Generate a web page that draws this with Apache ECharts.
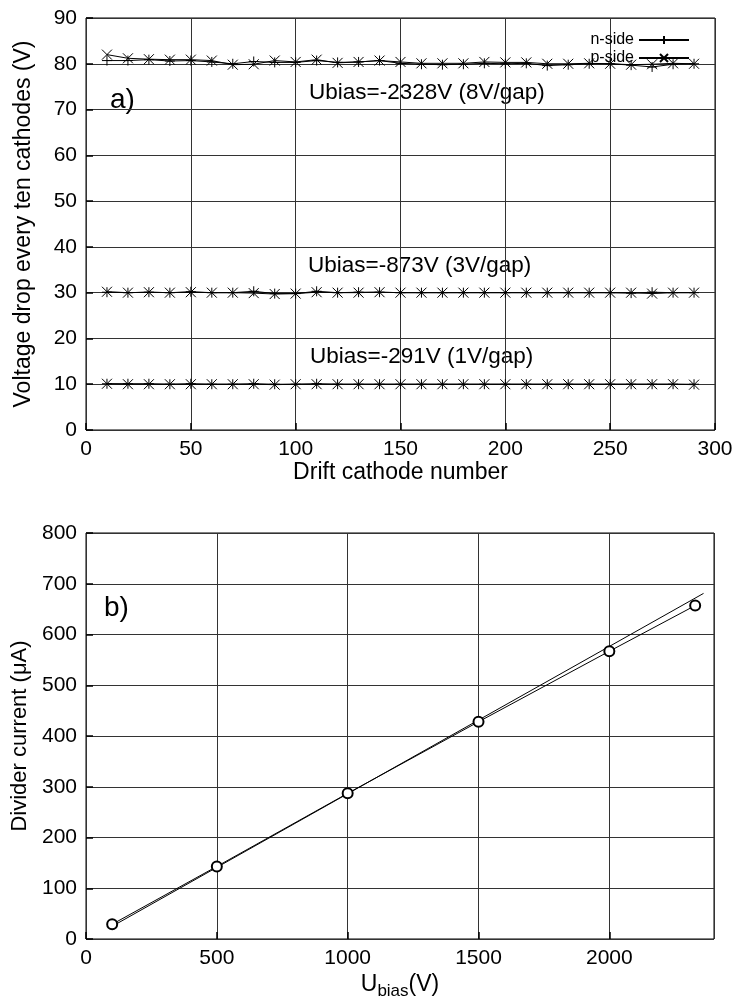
<!DOCTYPE html>
<html>
<head>
    <meta charset="utf-8">
    <title>Divider chain</title>
    <script src="https://cdn.jsdelivr.net/npm/echarts@6/dist/echarts.min.js"></script>
    <style>
        html, body { margin: 0; padding: 0; background: #fff; }
        #main { width: 740px; height: 1001px; }
    </style>
</head>
<body>
    <div id="main"></div>
    <script type="text/javascript">
        // panel a) voltage drop every ten cathodes
        var cathodes = [10, 20, 30, 40, 50, 60, 70, 80, 90, 100, 110, 120, 130, 140, 150,
                        160, 170, 180, 190, 200, 210, 220, 230, 240, 250, 260, 270, 280, 290];
        var n80 = [80.7, 80.7, 80.9, 80.6, 80.7, 80.4, 80.0, 80.5, 80.3, 80.3, 80.7, 80.3, 80.4, 80.7, 80.1,
                   79.9, 79.8, 79.9, 80.1, 80.0, 80.1, 79.6, 79.8, 80.0, 80.0, 79.7, 79.3, 79.9, 80.0];
        var p80 = [82.0, 81.2, 81.0, 80.9, 80.9, 80.7, 79.8, 79.9, 80.7, 80.4, 80.9, 80.2, 80.4, 80.7, 80.4,
                   80.1, 80.1, 80.1, 80.4, 80.3, 80.3, 80.0, 80.0, 80.1, 80.0, 79.8, 79.9, 80.1, 80.0];
        var n30 = [30.1, 30.0, 30.1, 30.0, 30.2, 30.0, 30.0, 30.3, 29.8, 29.8, 30.3, 30.0, 30.1, 30.1, 30.0,
                   30.0, 30.0, 30.0, 30.0, 30.0, 30.0, 30.0, 30.0, 30.0, 30.0, 29.9, 30.1, 30.0, 30.0];
        var p30 = [30.2, 30.0, 30.1, 30.0, 30.1, 30.0, 30.0, 29.9, 29.7, 29.8, 30.1, 30.0, 30.0, 30.1, 30.0,
                   30.0, 30.0, 30.0, 30.0, 30.0, 30.0, 30.0, 30.0, 30.0, 30.0, 30.0, 29.8, 30.0, 30.0];
        var n10 = [10.1, 10.1, 10.1, 10.0, 10.1, 10.0, 10.0, 10.1, 10.0, 10.0, 10.1, 10.0, 10.0, 10.0, 10.0,
                   10.0, 10.0, 10.0, 10.0, 10.0, 10.0, 10.0, 10.0, 10.0, 10.0, 10.0, 10.0, 10.0, 10.0];
        var p10 = [10.1, 10.0, 10.0, 10.0, 10.0, 10.0, 10.0, 10.0, 9.9, 10.0, 10.0, 10.0, 10.0, 10.0, 10.0,
                   10.0, 10.0, 10.0, 10.0, 10.0, 10.0, 10.0, 10.0, 10.0, 10.0, 10.0, 10.0, 10.0, 9.9];

        // panel b) divider current
        var ubias = [100, 500, 1000, 1500, 2000, 2328];
        var current = [29, 143, 287, 428, 567, 657];
        var fitLine = [[100, 25], [2360, 681]];

        var FONT = '"Liberation Sans", Arial, sans-serif';
        var PLUS = 'path://M5,0L5,10M0,5L10,5';
        var CROSS = 'path://M0,0L10,10M10,0L0,10';

        function pairs(xs, ys) {
            return xs.map(function (x, i) { return [x, ys[i]]; });
        }

        function sideSeries(name, symbol, values) {
            return {
                name: name,
                type: 'line',
                xAxisIndex: 0,
                yAxisIndex: 0,
                data: pairs(cathodes, values),
                symbol: symbol,
                symbolSize: 10,
                showSymbol: true,
                lineStyle: { color: '#000', width: 1 },
                itemStyle: { color: '#000', borderColor: '#000', borderWidth: 1 },
                silent: true
            };
        }

        function axis(grid, max, interval, name, nameGap, nameSize) {
            return {
                type: 'value', gridIndex: grid, min: 0, max: max, interval: interval,
                name: name, nameLocation: 'middle', nameGap: nameGap,
                nameTextStyle: { fontFamily: FONT, fontSize: nameSize, color: '#000' },
                axisLine: { show: false },
                axisTick: { show: true, inside: true, length: 7, lineStyle: { color: '#000', width: 1.5 } },
                axisLabel: {
                    fontFamily: FONT, fontSize: 21, color: '#000', margin: 9,
                    showMaxLabel: max !== 2400,
                    formatter: function (v) { return String(v); }
                },
                splitLine: { show: true, lineStyle: { color: '#333', width: 1 } }
            };
        }

        var myChart = echarts.init(document.getElementById('main'), null, { renderer: 'canvas' });

        var option = {
            backgroundColor: '#fff',
            animation: false,
            grid: [
                { left: 86, top: 18, width: 629, height: 412, show: true, borderColor: '#000', borderWidth: 1, backgroundColor: 'transparent' },
                { left: 86, top: 533, width: 628, height: 408, show: true, borderColor: '#000', borderWidth: 1, backgroundColor: 'transparent' }
            ],
            legend: {
                data: ['n-side', 'p-side'],
                orient: 'vertical',
                right: 45,
                top: 27,
                align: 'right',
                itemWidth: 50,
                itemHeight: 10,
                itemGap: 2,
                textStyle: { fontFamily: FONT, fontSize: 16, lineHeight: 16, color: '#000' },
                selectedMode: false
            },
            xAxis: [
                axis(0, 300, 50, 'Drift cathode number', 30, 23),
                axis(1, 2400, 500, '{u|U}{s|bias}{u|(V)}', 30, 23)
            ],
            yAxis: [
                axis(0, 90, 10, 'Voltage drop every ten cathodes (V)', 51, 23),
                axis(1, 800, 100, 'Divider current (\u03bcA)', 50, 22)
            ],
            series: [
                sideSeries('n-side', PLUS, n80),
                sideSeries('p-side', CROSS, p80),
                sideSeries('n-side', PLUS, n30),
                sideSeries('p-side', CROSS, p30),
                sideSeries('n-side', PLUS, n10),
                sideSeries('p-side', CROSS, p10),
                {
                    name: 'measured',
                    type: 'line',
                    xAxisIndex: 1,
                    yAxisIndex: 1,
                    data: pairs(ubias, current),
                    symbol: 'emptyCircle',
                    symbolSize: 10,
                    lineStyle: { color: '#000', width: 1 },
                    itemStyle: { color: '#000', borderColor: '#000', borderWidth: 1 },
                    silent: true
                },
                {
                    name: 'fit',
                    type: 'line',
                    xAxisIndex: 1,
                    yAxisIndex: 1,
                    data: fitLine,
                    showSymbol: false,
                    symbol: 'none',
                    lineStyle: { color: '#000', width: 1 },
                    silent: true
                }
            ],
            graphic: [
                { type: 'text', left: 110, top: 86, style: { text: 'a)', font: '28px ' + FONT, fill: '#000' } },
                { type: 'text', left: 104, top: 594, style: { text: 'b)', font: '28px ' + FONT, fill: '#000' } },
                { type: 'text', left: 309, top: 81, style: { text: 'Ubias=-2328V (8V/gap)', font: '22.5px ' + FONT, fill: '#000' } },
                { type: 'text', left: 308, top: 254, style: { text: 'Ubias=-873V (3V/gap)', font: '22.5px ' + FONT, fill: '#000' } },
                { type: 'text', left: 310, top: 345, style: { text: 'Ubias=-291V (1V/gap)', font: '22.5px ' + FONT, fill: '#000' } }
            ]
        };

        // subscript for the bottom x-axis name
        option.xAxis[1].nameTextStyle.rich = {
            u: { fontFamily: FONT, fontSize: 23, color: '#000' },
            s: { fontFamily: FONT, fontSize: 17, color: '#000', padding: [14, 0, 0, 0] }
        };

        myChart.setOption(option);
    </script>
</body>
</html>
